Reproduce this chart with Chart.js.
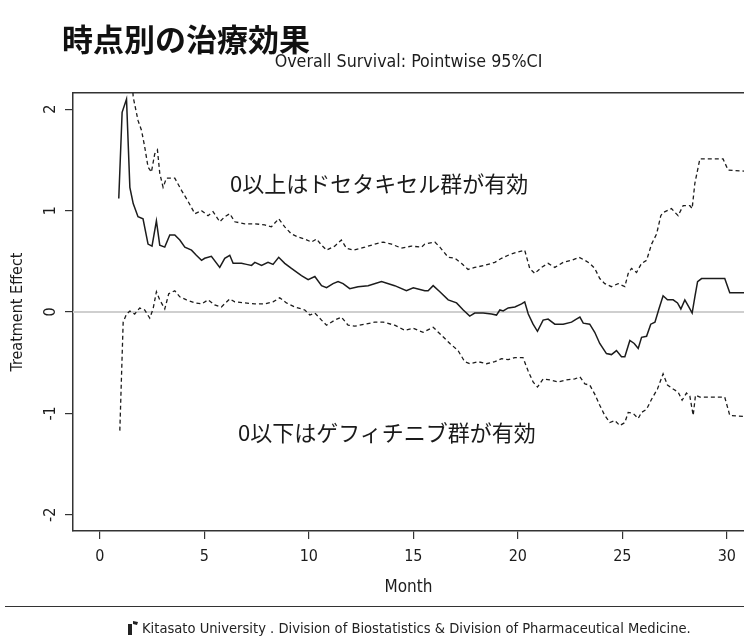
<!DOCTYPE html>
<html lang="ja">
<head>
<meta charset="utf-8">
<title>時点別の治療効果</title>
<script src="https://cdn.jsdelivr.net/npm/chart.js@4.4.1/dist/chart.umd.min.js"></script>
<style>
  html, body { margin: 0; padding: 0; background: #fff; }
  body { width: 744px; height: 640px; overflow: hidden; position: relative; }
  #wrap { position: absolute; left: 0; top: 0; width: 744px; height: 640px; }
  #slideTitle {
    position: absolute; left: 62px; top: 22px;
    font-family: "Noto Sans CJK JP", sans-serif; font-weight: bold;
    font-size: 31px; line-height: 1; color: #111;
  }
  .note {
    position: absolute; font-family: "Noto Sans CJK JP", sans-serif;
    font-size: 22px; line-height: 1; color: #1a1a1a; white-space: nowrap;
  }
  #rule { position: absolute; left: 5px; top: 606px; width: 739px; border-top: 1.5px solid #333; }
  #footer {
    position: absolute; left: 128px; top: 619px; white-space: nowrap;
    font-family: "Liberation Sans Narrow", "DejaVu Sans Condensed", sans-serif;
    font-size: 14.6px; color: #222;
  }
  #footer svg { vertical-align: -2px; margin-right: 4px; }
</style>
</head>
<body>
<div id="wrap"><canvas id="chart" width="744" height="640"></canvas></div>
<div id="slideTitle">時点別の治療効果</div>
<div class="note" style="left:230px; top:171px;">0以上はドセタキセル群が有効</div>
<div class="note" style="left:238px; top:420px;">0以下はゲフィチニブ群が有効</div>
<div id="rule"></div>
<div id="footer"><svg width="10" height="14" viewBox="0 0 10 14"><rect x="0" y="3" width="4" height="11" fill="#222"/><path d="M5 0 L10 1 L9 4 L5 3 Z" fill="#222"/></svg>Kitasato University . Division of Biostatistics &amp; Division of Pharmaceutical Medicine.</div>
<script>
// Treatment effect estimate (solid line), month vs value
const estMonth = [0.91, 1.07, 1.28, 1.44, 1.60, 1.83, 2.07, 2.31, 2.50, 2.71, 2.87, 3.11, 3.35, 3.59, 3.83, 4.07, 4.39, 4.62, 4.87, 5.02,
  5.34, 5.74, 5.98, 6.22, 6.38, 6.78, 7.02, 7.26, 7.42, 7.74, 8.05, 8.29, 8.56, 8.85, 9.17, 9.65, 9.97, 10.29, 10.61, 10.85,
  11.16, 11.40, 11.64, 11.96, 12.36, 12.84, 13.48, 14.11, 14.67, 15.00, 15.55, 15.71, 15.95, 16.27, 16.67, 17.07, 17.39, 17.70, 17.94, 18.34,
  18.74, 18.98, 19.14, 19.30, 19.54, 19.86, 20.18, 20.33, 20.50, 20.73, 20.94, 21.21, 21.45, 21.77, 22.17, 22.57, 22.80, 22.97, 23.13, 23.44,
  23.68, 23.92, 24.24, 24.48, 24.72, 24.96, 25.12, 25.36, 25.57, 25.76, 25.92, 26.16, 26.36, 26.56, 26.75, 26.95, 27.16, 27.43, 27.64, 27.80,
  27.99, 28.18, 28.34, 28.47, 28.60, 28.79, 29.90, 30.14, 30.82];
const estValue = [1.12, 1.97, 2.10, 1.23, 1.07, 0.94, 0.92, 0.67, 0.65, 0.90, 0.66, 0.64, 0.76, 0.76, 0.71, 0.64, 0.61, 0.56, 0.51, 0.53,
  0.55, 0.44, 0.53, 0.56, 0.48, 0.48, 0.47, 0.46, 0.49, 0.46, 0.49, 0.47, 0.54, 0.48, 0.43, 0.36, 0.32, 0.35, 0.26, 0.24,
  0.28, 0.30, 0.28, 0.23, 0.25, 0.26, 0.30, 0.26, 0.21, 0.24, 0.21, 0.21, 0.26, 0.20, 0.12, 0.09, 0.02, -0.04, -0.01, -0.01,
  -0.02, -0.03, 0.02, 0.01, 0.04, 0.05, 0.08, 0.10, -0.02, -0.12, -0.19, -0.08, -0.07, -0.12, -0.12, -0.10, -0.07, -0.05, -0.11, -0.12,
  -0.20, -0.31, -0.41, -0.42, -0.38, -0.44, -0.44, -0.28, -0.31, -0.36, -0.25, -0.24, -0.12, -0.10, 0.03, 0.16, 0.12, 0.12, 0.09, 0.03,
  0.12, 0.05, -0.01, 0.15, 0.30, 0.33, 0.33, 0.19, 0.19];

// Upper pointwise 95% CI (dashed)
const upperMonth = [1.28, 1.60, 1.83, 2.00, 2.15, 2.31, 2.47, 2.63, 2.76, 2.87, 3.03, 3.19, 3.59, 3.91, 4.23, 4.55, 4.87, 5.18, 5.42, 5.74,
  5.98, 6.22, 6.46, 6.94, 7.42, 7.89, 8.21, 8.56, 8.85, 9.17, 9.49, 9.81, 10.13, 10.37, 10.61, 10.85, 11.24, 11.56, 11.80, 12.12,
  12.68, 13.16, 13.56, 13.96, 14.43, 14.91, 15.39, 15.55, 16.03, 16.27, 16.67, 16.99, 17.30, 17.62, 17.94, 18.42, 18.90, 19.22, 19.54, 19.94,
  20.33, 20.57, 20.81, 21.13, 21.45, 21.77, 22.17, 22.57, 22.93, 23.21, 23.44, 23.68, 23.92, 24.16, 24.48, 24.80, 25.12, 25.28, 25.44, 25.68,
  25.92, 26.16, 26.40, 26.64, 26.84, 26.95, 27.35, 27.67, 27.91, 28.23, 28.34, 28.47, 28.71, 29.82, 30.06, 30.82];
const upperValue = [3.20, 2.12, 1.89, 1.79, 1.63, 1.43, 1.38, 1.56, 1.60, 1.37, 1.23, 1.32, 1.32, 1.20, 1.09, 0.97, 1.00, 0.95, 0.99, 0.89,
  0.94, 0.97, 0.89, 0.87, 0.87, 0.86, 0.84, 0.92, 0.84, 0.77, 0.74, 0.72, 0.69, 0.72, 0.66, 0.61, 0.65, 0.71, 0.63, 0.61,
  0.64, 0.67, 0.69, 0.67, 0.63, 0.65, 0.64, 0.67, 0.69, 0.64, 0.54, 0.53, 0.48, 0.42, 0.44, 0.46, 0.49, 0.53, 0.56, 0.59,
  0.61, 0.43, 0.38, 0.44, 0.48, 0.44, 0.49, 0.51, 0.54, 0.51, 0.48, 0.43, 0.33, 0.28, 0.25, 0.28, 0.25, 0.38, 0.43, 0.39,
  0.48, 0.51, 0.67, 0.77, 0.95, 0.98, 1.02, 0.95, 1.05, 1.05, 1.02, 1.27, 1.51, 1.51, 1.40, 1.39];

// Lower pointwise 95% CI (dashed)
const lowerMonth = [0.96, 1.12, 1.28, 1.44, 1.67, 1.91, 2.15, 2.39, 2.55, 2.71, 2.87, 3.11, 3.30, 3.59, 3.83, 4.15, 4.55, 4.87, 5.18, 5.50,
  5.82, 6.22, 6.46, 6.94, 7.42, 7.89, 8.29, 8.61, 8.93, 9.33, 9.81, 10.05, 10.29, 10.61, 10.85, 11.24, 11.56, 11.88, 12.20, 12.68,
  13.16, 13.56, 14.11, 14.59, 14.99, 15.47, 15.95, 16.35, 16.75, 17.14, 17.46, 17.70, 18.10, 18.50, 18.90, 19.22, 19.54, 19.86, 20.25, 20.49,
  20.73, 20.94, 21.21, 21.53, 21.93, 22.33, 22.73, 22.97, 23.21, 23.44, 23.68, 23.92, 24.16, 24.40, 24.64, 24.88, 25.12, 25.28, 25.52, 25.76,
  25.92, 26.16, 26.40, 26.68, 26.95, 27.16, 27.43, 27.67, 27.86, 28.07, 28.23, 28.39, 28.50, 28.71, 29.90, 30.14, 30.82];
const lowerValue = [-1.17, -0.10, -0.02, 0.01, -0.02, 0.04, 0.02, -0.06, 0.03, 0.20, 0.12, 0.03, 0.18, 0.21, 0.15, 0.12, 0.09, 0.08, 0.12, 0.07,
  0.05, 0.13, 0.10, 0.09, 0.08, 0.08, 0.10, 0.14, 0.09, 0.05, 0.02, -0.03, -0.01, -0.08, -0.13, -0.08, -0.05, -0.13, -0.14, -0.12,
  -0.10, -0.10, -0.13, -0.18, -0.16, -0.20, -0.15, -0.23, -0.31, -0.38, -0.49, -0.51, -0.49, -0.51, -0.49, -0.46, -0.47, -0.45, -0.45, -0.58,
  -0.69, -0.74, -0.66, -0.67, -0.69, -0.67, -0.66, -0.64, -0.71, -0.72, -0.81, -0.92, -1.02, -1.09, -1.07, -1.12, -1.09, -0.99, -1.00, -1.05,
  -0.99, -0.96, -0.86, -0.76, -0.61, -0.72, -0.76, -0.79, -0.87, -0.80, -0.83, -1.02, -0.82, -0.84, -0.84, -1.02, -1.03];

// Axis ranges and ticks
const xRange = [-1.28, 30.82];
const yRange = [-2.16, 2.16];
const xStep = 5;
const yStep = 1;
const refLine = 0;

const narrow = "'Liberation Sans Narrow', 'DejaVu Sans Condensed', sans-serif";
const ink = '#1c1c1c';

function toPoints(xs, ys) {
  return xs.map((x, i) => ({ x: x, y: ys[i] }));
}

// abline(h = 0) and rotated y tick labels, R style
const rStyle = {
  id: 'rStyle',
  beforeDatasetsDraw(chart) {
    const { ctx, chartArea, scales } = chart;
    const y0 = scales.y.getPixelForValue(refLine);
    ctx.save();
    ctx.strokeStyle = '#cfcfcf';
    ctx.lineWidth = 2;
    ctx.beginPath();
    ctx.moveTo(chartArea.left, y0);
    ctx.lineTo(chartArea.right, y0);
    ctx.stroke();
    ctx.restore();
  },
  afterDraw(chart) {
    const { ctx, scales } = chart;
    const ys = scales.y;
    ctx.save();
    ctx.fillStyle = ink;
    ctx.font = '16px ' + narrow;
    ctx.textAlign = 'center';
    ctx.textBaseline = 'middle';
    ys.ticks.forEach(t => {
      const py = ys.getPixelForValue(t.value);
      ctx.save();
      ctx.translate(ys.right - 22, py);
      ctx.rotate(-Math.PI / 2);
      ctx.fillText(String(t.value), 0, 0);
      ctx.restore();
    });
    ctx.restore();
  }
};

new Chart(document.getElementById('chart'), {
  type: 'line',
  data: {
    datasets: [
      {
        label: 'Estimate',
        data: toPoints(estMonth, estValue),
        borderColor: ink,
        borderWidth: 1.5
      },
      {
        label: 'Upper 95% CI',
        data: toPoints(upperMonth, upperValue),
        borderColor: ink,
        borderWidth: 1.3,
        borderDash: [4, 3]
      },
      {
        label: 'Lower 95% CI',
        data: toPoints(lowerMonth, lowerValue),
        borderColor: ink,
        borderWidth: 1.3,
        borderDash: [4, 3]
      }
    ]
  },
  options: {
    responsive: false,
    animation: false,
    devicePixelRatio: 1,
    layout: { padding: { left: 0, right: 0, top: 0, bottom: 37.8 } },
    elements: { point: { radius: 0 }, line: { tension: 0 } },
    plugins: {
      legend: { display: false },
      tooltip: { enabled: false },
      title: {
        display: true,
        fullSize: false,
        text: 'Overall Survival: Pointwise 95%CI',
        color: ink,
        font: { family: narrow, size: 17.7, weight: 'normal' },
        padding: { top: 51.4, bottom: 20.4 }
      }
    },
    scales: {
      x: {
        type: 'linear',
        position: 'bottom',
        min: xRange[0],
        max: xRange[1],
        grid: { drawOnChartArea: false, drawTicks: true, tickLength: 8, color: '#333', lineWidth: 1.2 },
        border: { display: true, color: '#333', width: 1.5 },
        ticks: { stepSize: xStep, includeBounds: false, color: ink, padding: 8, font: { family: narrow, size: 16 } },
        title: { display: true, text: 'Month', color: ink, font: { family: narrow, size: 17 }, padding: { top: 3.6, bottom: 4 } }
      },
      x2: {
        type: 'linear',
        position: 'top',
        min: xRange[0],
        max: xRange[1],
        grid: { display: false, drawTicks: false, tickLength: 0 },
        border: { display: true, color: '#333', width: 1.5 },
        ticks: { display: false }
      },
      y: {
        type: 'linear',
        position: 'left',
        min: yRange[0],
        max: yRange[1],
        grid: { drawOnChartArea: false, drawTicks: true, tickLength: 8, color: '#333', lineWidth: 1.2 },
        border: { display: true, color: '#333', width: 1.5 },
        ticks: { stepSize: yStep, includeBounds: false, display: false },
        title: { display: true, text: 'Treatment Effect', color: ink, font: { family: narrow, size: 16 }, padding: { top: 8.4, bottom: 37.4 } }
      }
    }
  },
  plugins: [rStyle]
});
</script>
</body>
</html>
